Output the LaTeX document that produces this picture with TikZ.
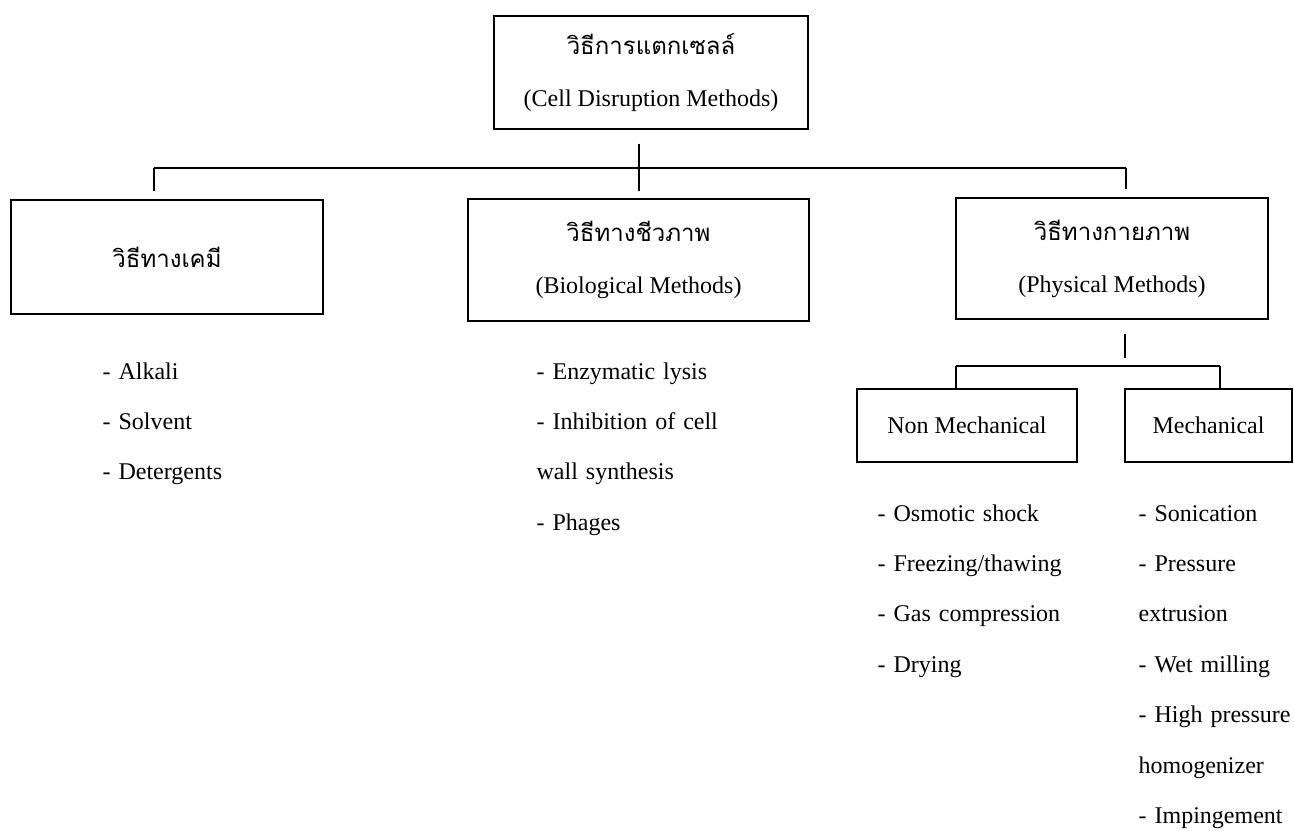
\documentclass[tikz,border=0pt]{standalone}
\usepackage{fontspec}
\setmainfont{Liberation Serif}
\newfontfamily\thai[Script=Thai]{Loma}
\usetikzlibrary{positioning}

\begin{document}
\begin{tikzpicture}[x=0.5pt, y=-0.5pt, node distance=25.2pt, semithick, font=\fontsize{12}{14.5}\selectfont,
        box/.style = {draw, align=center, inner sep=0pt},
        item/.style = {text width=120pt, align=left, inner sep=0pt, text height=8.5pt, text depth=2.5pt}]
        \useasboundingbox (0,0) rectangle (1294,830);

        \node[box, minimum width=157pt, minimum height=56.5pt] (cell) at (651,72.5) {{\thai วิธีการแตกเซลล์}\\[11.5pt](Cell Disruption Methods)};
        \node[box, minimum width=156pt, minimum height=57pt] (chem) at (167,257) {\thai วิธีทางเคมี};
        \node[box, minimum width=170.5pt, minimum height=61pt] (bio) at (638.5,260) {{\thai วิธีทางชีวภาพ}\\[11.5pt](Biological Methods)};
        \node[box, minimum width=156pt, minimum height=60.5pt] (phys) at (1112,258.5) {{\thai วิธีทางกายภาพ}\\[11.5pt](Physical Methods)};
        \node[box, minimum width=110pt, minimum height=36.5pt] (nonmech) at (967,425.5) {Non Mechanical};
        \node[box, minimum width=83.5pt, minimum height=36.5pt] (mech) at (1208.5,425.5) {Mechanical};

        \node[item, anchor=west] (alkali) at (102,373) {- Alkali};
        \node[item] (solvent) [below of=alkali] {- Solvent};
        \node[item] (detergents) [below of=solvent] {- Detergents};

        \node[item, anchor=west] (enzymatic) at (536,373) {- Enzymatic lysis};
        \node[item] (inhibition) [below of=enzymatic] {- Inhibition of cell};
        \node[item] (wall) [below of=inhibition] {wall synthesis};
        \node[item] (phages) [below of=wall] {- Phages};

        \node[item, anchor=west] (osmotic) at (877,515) {- Osmotic shock};
        \node[item] (freezing) [below of=osmotic] {- Freezing/thawing};
        \node[item] (gas) [below of=freezing] {- Gas compression};
        \node[item] (drying) [below of=gas] {- Drying};

        \node[item, anchor=west] (sonication) at (1138,515) {- Sonication};
        \node[item] (pressure) [below of=sonication] {- Pressure};
        \node[item] (extrusion) [below of=pressure] {extrusion};
        \node[item] (wet) [below of=extrusion] {- Wet milling};
        \node[item] (high) [below of=wet] {- High pressure};
        \node[item] (homogenizer) [below of=high] {homogenizer};
        \node[item] (impingement) [below of=homogenizer] {- Impingement};

        \coordinate (hub) at (639,168);
        \coordinate (busL) at (154,168);
        \coordinate (busR) at (1126,168);
        \coordinate (subhub) at (1125,366);
        \coordinate (subL) at (956,366);
        \coordinate (subR) at (1220,366);

        \draw[shorten <=7pt, shorten >=3.5pt] (cell.south -| hub) -- (hub |- bio.north);
        \draw (busL) -- (busR);
        \draw[shorten >=4pt] (busL) -- (busL |- chem.north);
        \draw[shorten >=4pt] (busR) -- (busR |- phys.north);

        \draw[shorten <=7pt, shorten >=4pt] (phys.south -| subhub) -- (subhub);
        \draw (subL) -- (subR);
        \draw (subL) -- (subL |- nonmech.north);
        \draw (subR) -- (subR |- mech.north);
    \end{tikzpicture}
\end{document}
